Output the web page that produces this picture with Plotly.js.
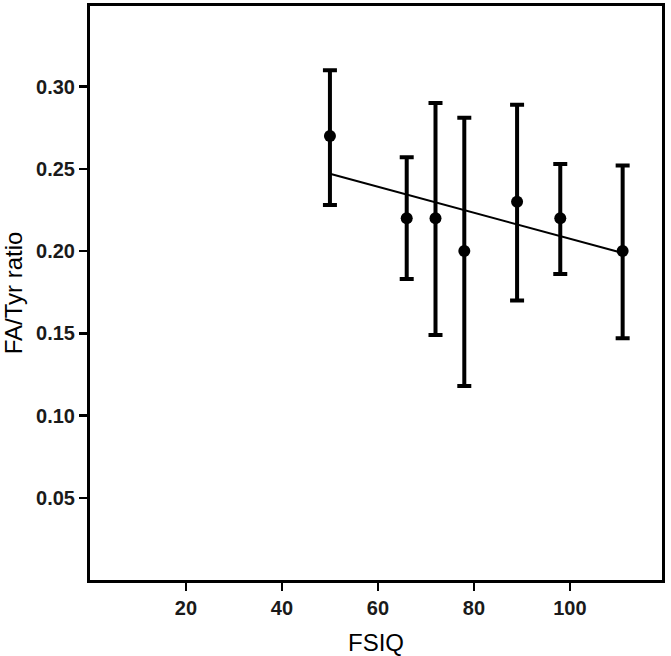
<!DOCTYPE html>
<html>
<head>
<meta charset="utf-8">
<script src="https://cdn.plot.ly/plotly-3.0.1.min.js"></script>
<style>html,body{margin:0;padding:0;background:#fff;}#chart{width:671px;height:656px;}</style>
</head>
<body>
<div id="chart"></div>
<script>
// Data
var fsiq = [50, 66, 72, 78, 89, 98, 111];
var ratioMean = [0.27, 0.22, 0.22, 0.20, 0.23, 0.22, 0.20];
var errUpper = [0.310, 0.257, 0.290, 0.281, 0.289, 0.253, 0.252];
var errLower = [0.228, 0.183, 0.149, 0.118, 0.170, 0.186, 0.147];
var xTickVals = [20, 40, 60, 80, 100];
var yTickVals = [0.05, 0.10, 0.15, 0.20, 0.25, 0.30];
var yTickText = ["0.05", "0.10", "0.15", "0.20", "0.25", "0.30"];

// error extents relative to mean
var errPlus = errUpper.map(function (u, i) { return u - ratioMean[i]; });
var errMinus = errLower.map(function (l, i) { return ratioMean[i] - l; });

// least-squares fit through the means
var n = fsiq.length;
var mx = fsiq.reduce(function (a, b) { return a + b; }, 0) / n;
var my = ratioMean.reduce(function (a, b) { return a + b; }, 0) / n;
var sxy = 0, sxx = 0;
for (var i = 0; i < n; i++) { sxy += (fsiq[i] - mx) * (ratioMean[i] - my); sxx += (fsiq[i] - mx) * (fsiq[i] - mx); }
var slope = sxy / sxx, intercept = my - slope * mx;
var fitX = [Math.min.apply(null, fsiq), Math.max.apply(null, fsiq)];
var fitY = fitX.map(function (x) { return intercept + slope * x; });

var traces = [
  {
    x: fitX, y: fitY, type: 'scatter', mode: 'lines',
    line: { color: '#000', width: 2 }, hoverinfo: 'skip', showlegend: false
  },
  {
    x: fsiq, y: ratioMean, type: 'scatter', mode: 'markers',
    marker: { color: '#000', size: 12 },
    error_y: { type: 'data', symmetric: false, array: errPlus, arrayminus: errMinus,
               color: '#000', thickness: 4, width: 7 },
    showlegend: false
  }
];

var tickFont = { family: 'Liberation Sans, Arial, sans-serif', size: 20, color: '#1a1a1a', weight: 'bold' };
var titleFont = { family: 'Liberation Sans, Arial, sans-serif', size: 24, color: '#000' };

var layout = {
  width: 671, height: 656,
  margin: { l: 90, r: 9, t: 6, b: 76 },
  paper_bgcolor: '#fff', plot_bgcolor: '#fff',
  showlegend: false,
  xaxis: {
    range: [0, 119.2], tickvals: xTickVals, ticktext: xTickVals.map(String),
    showgrid: false, zeroline: false, showline: true, mirror: true,
    linecolor: '#000', linewidth: 3,
    ticks: 'outside', ticklen: 8, tickwidth: 2.5, tickcolor: '#000',
    tickfont: tickFont,
    title: { text: 'FSIQ', font: titleFont, standoff: 18 }
  },
  yaxis: {
    range: [0, 0.349], tickvals: yTickVals, ticktext: yTickText,
    showgrid: false, zeroline: false, showline: true, mirror: true,
    linecolor: '#000', linewidth: 3,
    ticks: 'outside', ticklen: 8, tickwidth: 2.5, tickcolor: '#000',
    tickfont: tickFont,
    title: { text: 'FA/Tyr ratio', font: titleFont, standoff: 8 }
  }
};

Plotly.newPlot('chart', traces, layout, { displayModeBar: false, staticPlot: true });
</script>
</body>
</html>
